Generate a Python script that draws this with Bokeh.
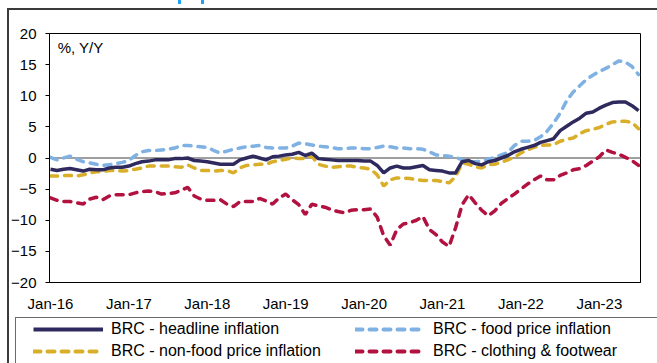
from bokeh.plotting import figure
from bokeh.layouts import column
from bokeh.models import (Range1d, FixedTicker, Span, Label, Legend, LegendItem,
                          ColumnDataSource)
from bokeh.embed import file_html
from bokeh.resources import INLINE

# ---- data (Jan-16 .. Jul-23, monthly, % Y/Y) ----
month_names = ["Jan", "Feb", "Mar", "Apr", "May", "Jun", "Jul", "Aug", "Sep", "Oct", "Nov", "Dec"]
months = [f"{m}-{y:02d}" for y in range(16, 24) for m in month_names][:91]

headline = [-1.8, -2.0, -1.8, -1.7, -1.9, -2.1, -1.8, -1.9, -1.9, -1.6, -1.5, -1.5,
            -1.3, -0.9, -0.6, -0.5, -0.3, -0.3, -0.3, -0.1, -0.1, 0.0, -0.4, -0.5,
            -0.6, -0.8, -1.0, -1.0, -1.0, -0.3, 0.0, 0.3, 0.0, -0.3, 0.2, 0.3,
            0.5, 0.6, 0.9, 0.4, 0.8, -0.1, -0.2, -0.3, -0.4, -0.4, -0.4, -0.4,
            -0.5, -0.5, -1.2, -2.4, -1.6, -1.3, -1.6, -1.6, -1.4, -1.2, -1.9, -2.0,
            -2.1, -2.4, -2.4, -0.6, -0.4, -0.9, -1.1, -0.6, -0.4, 0.0, 0.4, 1.0,
            1.4, 1.7, 2.0, 2.5, 2.8, 3.1, 4.4, 5.1, 5.8, 6.4, 7.2, 7.4,
            8.0, 8.5, 8.9, 9.0, 9.0, 8.4, 7.6]

food = [0.1, -0.3, 0.0, 0.3, -0.2, -0.6, -0.8, -1.0, -1.2, -1.1, -0.9, -0.7,
        -0.4, 0.4, 1.0, 1.2, 1.2, 1.3, 1.4, 1.6, 2.0, 2.0, 1.9, 1.8,
        1.7, 1.2, 0.8, 1.1, 1.4, 1.6, 1.8, 1.9, 2.0, 1.7, 1.6, 1.6,
        1.6, 1.9, 2.4, 2.3, 2.1, 1.9, 1.8, 1.7, 1.5, 1.5, 1.6, 1.6,
        1.5, 1.5, 1.7, 1.9, 1.8, 1.6, 1.6, 1.5, 1.5, 1.4, 1.0, 0.5,
        0.4, 0.3, 0.1, -0.3, -0.6, -0.6, -0.5, -0.2, 0.1, 0.5, 0.9, 2.0,
        2.7, 2.7, 2.8, 3.4, 4.3, 5.6, 7.2, 9.2, 10.6, 11.6, 12.6, 13.3,
        13.9, 14.4, 15.0, 15.6, 15.4, 14.7, 13.4]

non_food = [-2.9, -2.9, -2.8, -2.8, -2.9, -2.7, -2.4, -2.2, -2.2, -2.0, -2.0, -2.1,
            -2.0, -1.8, -1.6, -1.3, -1.3, -1.3, -1.3, -1.4, -1.5, -1.1, -1.6, -2.0,
            -2.0, -2.1, -2.0, -2.0, -2.4, -1.6, -1.2, -1.1, -1.0, -1.0, -0.6, -0.4,
            -0.2, 0.0, -0.1, -0.1, 0.3, -1.0, -1.3, -1.5, -1.4, -1.3, -1.3, -1.5,
            -1.6, -1.8, -2.7, -4.5, -3.5, -3.2, -3.2, -3.3, -3.5, -3.6, -3.6, -3.6,
            -3.8, -4.0, -3.0, -0.8, -1.0, -1.4, -1.6, -1.1, -1.0, -0.7, -0.3, 0.1,
            0.8, 1.3, 1.7, 2.0, 2.1, 2.1, 2.7, 3.0, 3.2, 3.9, 4.4, 4.6,
            4.9, 5.4, 5.8, 5.9, 5.9, 5.7, 4.7]

clothing = [-6.4, -6.8, -7.0, -7.0, -7.2, -7.4, -6.6, -6.3, -6.7, -6.1, -5.9, -5.9,
            -5.9, -5.6, -5.4, -5.3, -5.4, -5.8, -5.7, -5.6, -5.2, -4.7, -6.1, -6.6,
            -6.8, -6.8, -6.7, -7.4, -7.8, -7.0, -7.0, -7.0, -6.5, -6.9, -7.4, -6.4,
            -5.8, -6.7, -7.5, -9.1, -7.4, -7.7, -7.9, -8.3, -8.6, -8.8, -8.4, -8.3,
            -8.3, -8.2, -9.5, -12.5, -14.0, -11.5, -10.6, -10.4, -10.0, -9.4, -11.5, -12.3,
            -13.5, -14.2, -11.2, -7.5, -5.9, -7.2, -8.4, -9.3, -8.5, -7.3, -6.5, -5.8,
            -5.0, -4.2, -3.5, -2.9, -3.5, -3.5, -2.8, -2.4, -1.9, -1.7, -1.2, -0.5,
            0.2, 1.3, 0.9, 0.6, 0.1, -0.4, -1.2]

series_labels = ["BRC - headline inflation", "BRC - food price inflation",
                 "BRC - non-food price inflation", "BRC - clothing & footwear"]
y_ticks = [-20, -15, -10, -5, 0, 5, 10, 15, 20]

# ---- styles ----
FONT = "Liberation Sans"
C_HEAD, C_FOOD, C_NON, C_CLOTH = "#2E2A5E", "#7FB1E3", "#D9AF2A", "#B2123F"
DASH = "7 7"
LW = 3.5

x_idx = list(range(len(months)))
src = ColumnDataSource(dict(x=x_idx, headline=headline, food=food,
                            non_food=non_food, clothing=clothing))

# slide-frame lines (and the cropped title remnants) as CSS backgrounds
main_css = {
    "background-image": ("linear-gradient(#3a3a3a, #3a3a3a), linear-gradient(#3a3a3a, #3a3a3a), "
                         "linear-gradient(#1FA3EE, #1FA3EE), linear-gradient(#1FA3EE, #1FA3EE)"),
    "background-position": "7px 8px, 7px 8px, 178px 0px, 201px 0px",
    "background-size": "650px 2px, 2px 309px, 3px 4px, 3px 4px",
    "background-repeat": "no-repeat",
    "background-color": "white",
}
leg_css = {
    "background-image": ("linear-gradient(#3a3a3a, #3a3a3a), "
                         "linear-gradient(#6a6a6a, #6a6a6a), linear-gradient(#6a6a6a, #6a6a6a)"),
    "background-position": "7px 0px, 15px 0px, 15px 0px",
    "background-size": "2px 46px, 642px 1px, 1px 46px",
    "background-repeat": "no-repeat",
    "background-color": "white",
}

# ---- main chart ----
p = figure(width=657, height=317, output_backend="svg", toolbar_location=None,
           x_range=Range1d(-0.15, 90.3), y_range=Range1d(-20, 20),
           min_border_left=49, min_border_right=17, min_border_top=33,
           min_border_bottom=35, styles=main_css)
p.frame_align = False
p.background_fill_color = "white"
p.border_fill_alpha = 0
p.outline_line_color = "black"
p.outline_line_width = 1
p.xgrid.visible = False
p.ygrid.visible = False

jan_pos = [i for i, m in enumerate(months) if m.startswith("Jan")]
p.xaxis.ticker = FixedTicker(ticks=jan_pos)
p.xaxis.major_label_overrides = {i: months[i] for i in jan_pos}
p.xaxis.major_tick_out = 0
p.xaxis.major_tick_in = 0
p.xaxis.minor_tick_line_color = None
p.xaxis.axis_line_color = "black"
p.xaxis.major_label_standoff = 12
p.xaxis.major_label_text_font = FONT
p.xaxis.major_label_text_font_size = "15px"
p.xaxis.major_label_text_color = "black"

p.yaxis.ticker = FixedTicker(ticks=y_ticks)
p.yaxis.major_tick_out = 4
p.yaxis.major_tick_in = 0
p.yaxis.minor_tick_line_color = None
p.yaxis.axis_line_color = "black"
p.yaxis.major_tick_line_color = "black"
p.yaxis.major_label_standoff = 9
p.yaxis.major_label_text_font = FONT
p.yaxis.major_label_text_font_size = "15px"
p.yaxis.major_label_text_color = "black"

p.add_layout(Span(location=0, dimension="width", line_color="#7f7f7f",
                  line_width=1.5, level="underlay"))

p.line("x", "food", source=src, line_color=C_FOOD, line_width=LW,
       line_dash=DASH, line_cap="round")
p.line("x", "non_food", source=src, line_color=C_NON, line_width=LW,
       line_dash=DASH, line_cap="round")
p.line("x", "clothing", source=src, line_color=C_CLOTH, line_width=LW,
       line_dash=DASH, line_cap="round")
p.line("x", "headline", source=src, line_color=C_HEAD, line_width=LW)

p.add_layout(Label(x=1.1, y=17.7, text="%, Y/Y", text_font=FONT,
                   text_font_size="15px", text_baseline="middle",
                   text_color="black"))

# ---- legend strip (its series sit outside its visible range; only the key shows) ----
q = figure(width=657, height=46, output_backend="svg", toolbar_location=None,
           x_axis_type=None, y_axis_type=None,
           x_range=Range1d(1000, 1001), y_range=Range1d(1000, 1001),
           min_border=0, min_border_left=0, min_border_right=0,
           min_border_top=0, min_border_bottom=0, styles=leg_css)
q.frame_align = False
q.background_fill_alpha = 0
q.border_fill_alpha = 0
q.outline_line_color = None
q.xgrid.visible = False
q.ygrid.visible = False
l_head = q.line("x", "headline", source=src, line_color=C_HEAD, line_width=4)
l_non = q.line("x", "non_food", source=src, line_color=C_NON, line_width=4,
               line_dash=DASH, line_cap="round")
l_food = q.line("x", "food", source=src, line_color=C_FOOD, line_width=4,
                line_dash=DASH, line_cap="round")
l_cloth = q.line("x", "clothing", source=src, line_color=C_CLOTH, line_width=4,
                 line_dash=DASH, line_cap="round")

legend = Legend(items=[LegendItem(label=series_labels[0], renderers=[l_head]),
                       LegendItem(label=series_labels[2], renderers=[l_non]),
                       LegendItem(label=series_labels[1], renderers=[l_food]),
                       LegendItem(label=series_labels[3], renderers=[l_cloth])],
                ncols=2, location=(33, 2), padding=0, margin=0,
                glyph_width=70, glyph_height=20, label_height=20,
                label_standoff=8, label_width=242, spacing=2,
                border_line_alpha=0, background_fill_alpha=0,
                label_text_font=FONT, label_text_font_size="16px",
                label_text_color="black")
q.add_layout(legend, "center")

layout = column(p, q, spacing=0)
open("out.html", "w").write(file_html(layout, INLINE))
